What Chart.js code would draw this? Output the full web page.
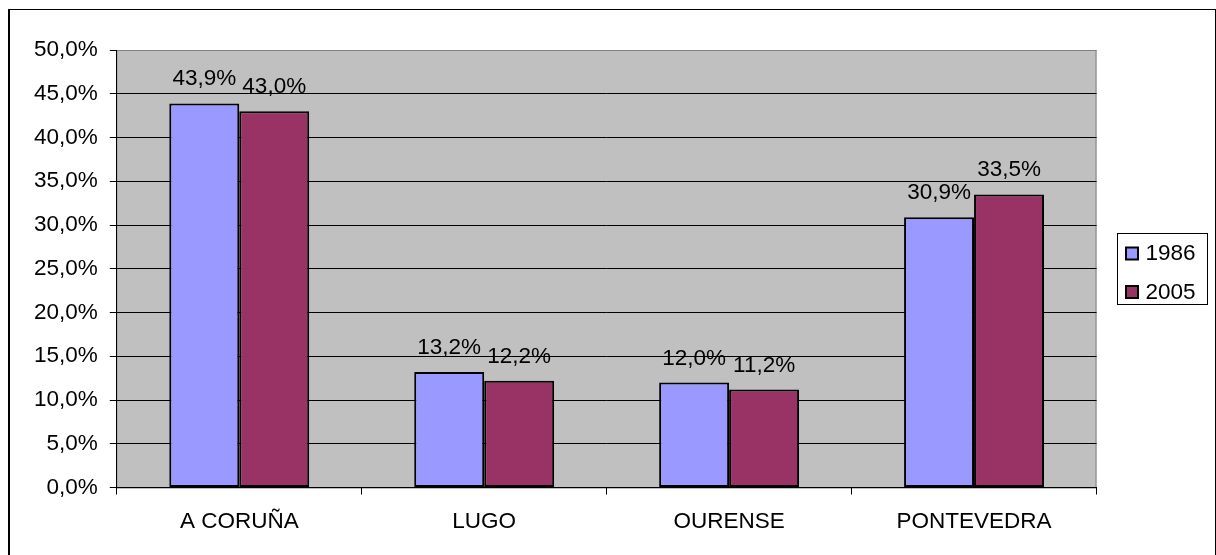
<!DOCTYPE html>
<html>
<head>
<meta charset="utf-8">
<script src="https://cdn.jsdelivr.net/npm/chart.js@4/dist/chart.umd.min.js"></script>
<style>
  html, body { margin: 0; padding: 0; background: #fff; overflow: hidden; }
  #stage { position: absolute; left: 0; top: 0; width: 1216px; height: 555px; }
  #frame { position: absolute; left: 8px; top: 9px; width: 1208px; height: 600px;
           box-sizing: border-box; border: 1px solid #000; border-left-width: 2px; pointer-events: none; }
  canvas { display: block; }
</style>
</head>
<body>
<div id="stage">
  <canvas id="c"></canvas>
  <div id="frame"></div>
</div>
<script>
const categories = ['A CORUÑA', 'LUGO', 'OURENSE', 'PONTEVEDRA'];
const seriesNames = ['1986', '2005'];
const values1986 = [43.9, 13.2, 12.0, 30.9];
const values2005 = [43.0, 12.2, 11.2, 33.5];
const yTickLabels = ['0,0%', '5,0%', '10,0%', '15,0%', '20,0%', '25,0%', '30,0%', '35,0%', '40,0%', '45,0%', '50,0%'];
const seriesColors = ['#9999FF', '#993366'];

const FONT = { family: "'Liberation Sans', Arial, sans-serif", size: 22.5 };
Chart.defaults.font.family = FONT.family;
Chart.defaults.font.size = FONT.size;
Chart.defaults.color = '#000';

function fmt(v) { return v.toFixed(1).replace('.', ',') + '%'; }

const plotBg = {
  id: 'plotBg',
  beforeDraw(chart) {
    const { ctx, chartArea: a } = chart;
    ctx.save();
    ctx.fillStyle = '#C0C0C0';
    ctx.fillRect(a.left, a.top, a.right - a.left, a.bottom - a.top);
    ctx.strokeStyle = '#808080';
    ctx.lineWidth = 1;
    ctx.strokeRect(a.left, a.top + 0.5, a.right - a.left - 0.5, a.bottom - a.top);
    ctx.restore();
  }
};

const valueLabels = {
  id: 'valueLabels',
  afterDatasetsDraw(chart) {
    const ctx = chart.ctx;
    ctx.save();
    ctx.font = FONT.size + 'px ' + FONT.family;
    ctx.fillStyle = '#000';
    ctx.textAlign = 'center';
    ctx.textBaseline = 'alphabetic';
    chart.data.datasets.forEach((ds, i) => {
      chart.getDatasetMeta(i).data.forEach((bar, j) => {
        ctx.fillText(fmt(ds.data[j]), bar.x, bar.y - 18);
      });
    });
    ctx.restore();
  }
};

const boxLegend = {
  id: 'boxLegend',
  afterDraw(chart) {
    const ctx = chart.ctx;
    ctx.save();
    ctx.strokeStyle = '#000';
    ctx.lineWidth = 1;
    ctx.strokeRect(1117.5, 233.5, 90, 71);
    ctx.font = FONT.size + 'px ' + FONT.family;
    ctx.textAlign = 'left';
    ctx.textBaseline = 'alphabetic';
    chart.data.datasets.forEach((ds, i) => {
      const y = 247.5 + i * 38.5;
      ctx.fillStyle = ds.backgroundColor;
      ctx.fillRect(1126, y, 12, 12);
      ctx.lineWidth = 2;
      ctx.strokeStyle = '#000';
      ctx.strokeRect(1126, y, 12, 12);
      ctx.fillStyle = '#000';
      ctx.fillText(ds.label, 1145.5, y + 12.5);
    });
    ctx.restore();
  }
};

new Chart(document.getElementById('c'), {
  type: 'bar',
  data: {
    labels: categories,
    datasets: [
      { label: seriesNames[0], data: values1986, backgroundColor: seriesColors[0],
        borderColor: '#000', borderWidth: 2, borderSkipped: false },
      { label: seriesNames[1], data: values2005, backgroundColor: seriesColors[1],
        borderColor: '#000', borderWidth: 2, borderSkipped: false }
    ]
  },
  options: {
    responsive: true,
    maintainAspectRatio: false,
    animation: false,
    events: [],
    layout: { padding: { left: 0, top: 50, right: 119.5, bottom: 0 } },
    datasets: { bar: { categoryPercentage: 0.5714, barPercentage: 1.0 } },
    plugins: { legend: { display: false }, tooltip: { enabled: false } },
    scales: {
      x: {
        afterFit(s) { s.height = 67.5; },
        grid: { offset: true, drawOnChartArea: false, drawTicks: true, tickLength: 7,
                color: '#000', lineWidth: 1 },
        border: { display: true, color: '#000', width: 1 },
        ticks: { padding: 14, color: '#000', maxRotation: 0, autoSkip: false }
      },
      y: {
        min: 0, max: 50,
        afterFit(s) { s.width = 116.8; },
        grid: { color: c => (c.tick && c.tick.value === 50 ? '#808080' : '#000'),
                tickColor: '#000', lineWidth: 1, tickLength: 7, drawTicks: true },
        border: { display: true, color: '#000', width: 1 },
        ticks: { stepSize: 5, padding: 12, color: '#000',
                 callback: (v, i) => yTickLabels[i] }
      }
    }
  },
  plugins: [plotBg, valueLabels, boxLegend]
});
</script>
</body>
</html>
